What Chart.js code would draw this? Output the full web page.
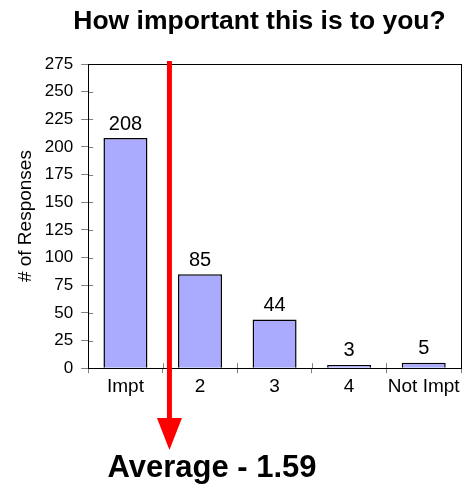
<!DOCTYPE html>
<html>
<head>
<meta charset="utf-8">
<script src="https://cdn.jsdelivr.net/npm/chart.js@4/dist/chart.umd.min.js"></script>
<style>
  html, body { margin: 0; padding: 0; background: #ffffff; }
  #wrap { width: 464px; height: 489px; position: relative; }
</style>
</head>
<body>
<div id="wrap"><canvas id="c"></canvas></div>
<script>
const chartTitle = 'How important this is to you?';
const yAxisTitle = '# of Responses';
const categories = ['Impt', '2', '3', '4', 'Not Impt'];
const responses = [208, 85, 44, 3, 5];
const yMin = 0;
const yMax = 275;
const yStep = 25;
const averageRating = 1.59;           // on the 1..5 scale (Impt = 1)
const averageLabel = 'Average - 1.59';

const FONT = '"Liberation Sans", Arial, Helvetica, sans-serif';

const decorPlugin = {
  id: 'decor',
  afterDatasetsDraw(chart) {
    const ctx = chart.ctx;
    const a = chart.chartArea;
    const xs = chart.scales.x;
    const ys = chart.scales.y;
    ctx.save();
    // chart title
    ctx.fillStyle = '#000000';
    ctx.font = 'bold 26.5px ' + FONT;
    ctx.textAlign = 'center';
    ctx.textBaseline = 'alphabetic';
    ctx.fillText(chartTitle, 259.5, 29);
    // inner tick extensions (ticks cross the axes)
    ctx.strokeStyle = '#808080';
    ctx.lineWidth = 1;
    ctx.beginPath();
    ys.ticks.forEach((t, i) => {
      const y = Math.round(ys.getPixelForTick(i)) + 0.5;
      ctx.moveTo(a.left, y);
      ctx.lineTo(a.left + 5, y);
    });
    for (let i = 0; i <= categories.length; i++) {
      const x = Math.round(xs.getPixelForValue(i - 0.5)) + 0.5;
      ctx.moveTo(x, a.bottom);
      ctx.lineTo(x, a.bottom - 5);
    }
    ctx.stroke();
    // frame
    ctx.strokeStyle = '#000000';
    ctx.lineWidth = 1;
    ctx.strokeRect(Math.round(a.left) + 0.5, Math.round(a.top) + 0.5,
                   Math.round(a.right - a.left), Math.round(a.bottom - a.top));
    // value labels
    ctx.fillStyle = '#000000';
    ctx.font = '20px ' + FONT;
    ctx.textAlign = 'center';
    ctx.textBaseline = 'bottom';
    const meta = chart.getDatasetMeta(0);
    meta.data.forEach((bar, i) => {
      ctx.fillText(String(responses[i]), bar.x, bar.y - 4);
    });
    // average arrow
    const ax = xs.getPixelForValue(averageRating - 1);
    const lineTop = a.top - 3;
    const headBase = 418;
    const headTip = 450;
    ctx.strokeStyle = '#ff0000';
    ctx.fillStyle = '#ff0000';
    ctx.lineWidth = 5;
    ctx.beginPath();
    ctx.moveTo(ax, lineTop);
    ctx.lineTo(ax, headBase + 2);
    ctx.stroke();
    ctx.beginPath();
    ctx.moveTo(ax - 12.5, headBase);
    ctx.lineTo(ax + 12.5, headBase);
    ctx.lineTo(ax, headTip);
    ctx.closePath();
    ctx.fill();
    // average label
    ctx.fillStyle = '#000000';
    ctx.font = 'bold 31px ' + FONT;
    ctx.textAlign = 'center';
    ctx.textBaseline = 'alphabetic';
    ctx.fillText(averageLabel, 212, 477);
    ctx.restore();
  }
};

new Chart(document.getElementById('c'), {
  type: 'bar',
  data: {
    labels: categories,
    datasets: [{
      data: responses,
      backgroundColor: '#aaaaff',
      borderColor: '#000000',
      borderWidth: 1.5,
      barPercentage: 0.59,
      categoryPercentage: 1.0
    }]
  },
  options: {
    responsive: true,
    maintainAspectRatio: false,
    animation: false,
    events: [],
    layout: { padding: { left: 14, right: 3, top: 64, bottom: 89 } },
    plugins: {
      legend: { display: false },
      tooltip: { enabled: false },
      title: { display: false }
    },
    scales: {
      x: {
        grid: { display: true, drawOnChartArea: false, tickLength: 5, color: '#808080', offset: true },
        border: { display: true, color: '#000000', width: 1 },
        ticks: { color: '#000000', font: { family: FONT, size: 19 }, padding: 2, maxRotation: 0, autoSkip: false }
      },
      y: {
        min: yMin,
        max: yMax,
        grid: { display: true, drawOnChartArea: false, tickLength: 7, color: '#808080' },
        border: { display: true, color: '#000000', width: 1 },
        ticks: { stepSize: yStep, color: '#000000', font: { family: FONT, size: 17 }, padding: 8 },
        title: {
          display: true,
          text: yAxisTitle,
          color: '#000000',
          font: { family: FONT, size: 19 },
          padding: { top: 0, bottom: 0 }
        }
      }
    }
  },
  plugins: [decorPlugin]
});
</script>
</body>
</html>
